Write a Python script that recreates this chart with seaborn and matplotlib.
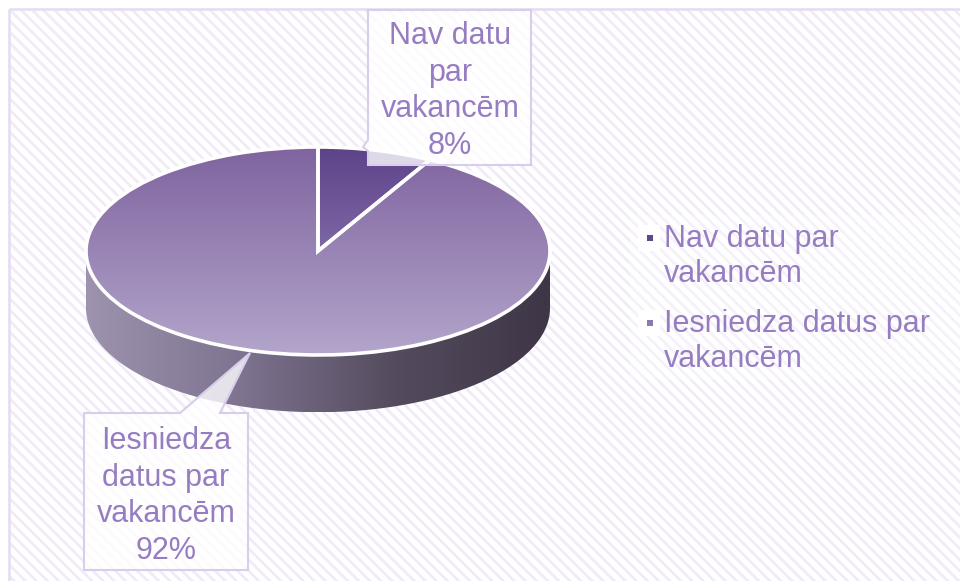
import numpy as np
import matplotlib.pyplot as plt
import seaborn as sns
from matplotlib.patches import Rectangle, Polygon
from matplotlib.colors import LinearSegmentedColormap

# Data
legend_labels = ["Nav datu par\nvakancēm", "Iesniedza datus par\nvakancēm"]
callout_labels = ["Nav datu\npar\nvakancēm", "Iesniedza\ndatus par\nvakancēm"]
shares = [8, 92]
marker_colors = ["#5f4689", "#8d7aad"]

sns.set_style("white")
plt.rcParams["font.family"] = ["Liberation Sans", "DejaVu Sans"]
plt.rcParams["hatch.linewidth"] = 2.0
text_color = "#967dc1"

W, H = 960, 581
fig = plt.figure(figsize=(9.6, 5.81), dpi=100)

# background frame with diagonal stripes (pixel coords)
bg = fig.add_axes([0, 0, 1, 1], zorder=0)
bg.set_xlim(0, W)
bg.set_ylim(H, 0)
bg.axis("off")
bg.add_patch(Rectangle((9, 9), W, H, facecolor="white", edgecolor="#f1ebf8",
                       hatch="\\\\\\", lw=0))
bg.add_patch(Rectangle((9, 9), W, H, facecolor="none", edgecolor="#e6dff1", lw=2))

# pie axes: unit circle squashed into an ellipse (232 px wide radius, 104 px tall)
cx, cy, rx, ry = 318, 251, 232, 104
depth = 0.55
ax = fig.add_axes([0, 0, 1, 1], zorder=1)
ax.patch.set_alpha(0)
wedges, _ = ax.pie(shares, startangle=90, counterclock=False, radius=1,
                   wedgeprops=dict(edgecolor="white", linewidth=2.6, facecolor="none"))

# side of the cake (front half only)
t = np.linspace(np.pi, 2 * np.pi, 300)
top = np.column_stack([np.cos(t), np.sin(t)])
bot = np.column_stack([np.cos(t[::-1]), np.sin(t[::-1]) - depth])
side = Polygon(np.vstack([top, bot]), closed=True, facecolor="none", edgecolor="none")
ax.add_patch(side)
side_cmap = LinearSegmentedColormap.from_list("side", ["#9d93ae", "#7e7390", "#544b5e", "#3e3646"])
im = ax.imshow(np.linspace(0, 1, 256)[None, :], cmap=side_cmap, extent=(-1, 1, -1 - depth, 0),
               aspect="auto", zorder=1)
im.set_clip_path(side)

# top face gradients, one per slice
face_colors = [("#5d4389", "#a08cc2"), ("#7f649f", "#b3a5cb")]
for w, (c_top, c_bot) in zip(wedges, face_colors):
    cmap = LinearSegmentedColormap.from_list("f", [c_top, c_bot])
    g = ax.imshow(np.linspace(0, 1, 256)[:, None], cmap=cmap, extent=(-1, 1, -1, 1),
                  aspect="auto", origin="upper", zorder=2)
    g.set_clip_path(w)
    w.set_zorder(3)

ax.set_aspect("auto")
ax.set_xlim(-cx / rx, (W - cx) / rx)
ax.set_ylim((cy - H) / ry, cy / ry)
ax.axis("off")

# callouts and legend (pixel coords)
ov = fig.add_axes([0, 0, 1, 1], zorder=2)
ov.set_xlim(0, W)
ov.set_ylim(H, 0)
ov.axis("off")
ov.patch.set_alpha(0)

boxes = [
    [(368, 10), (531, 10), (531, 165), (368, 165), (368, 151), (363, 147), (368, 140)],
    [(84, 413), (180, 413), (250, 353), (220, 413), (248, 413), (248, 570), (84, 570)],
]
centers = [(450, 91), (166, 496)]
for pts, (x, y), lab, s in zip(boxes, centers, callout_labels, shares):
    ov.add_patch(Polygon(pts, closed=True, facecolor=(1, 1, 1, 0.8),
                         edgecolor="#d8cdea", lw=1.5))
    ov.text(x, y, f"{lab}\n{s}%", ha="center", va="center", fontsize=22,
            color=text_color, linespacing=1.3)

# legend: small square marker next to first line of each entry
ov.add_patch(Rectangle((630, 215), 330, 165, facecolor=(1, 1, 1, 0.35), edgecolor="none"))
for i, (lab, c) in enumerate(zip(legend_labels, marker_colors)):
    y0 = 238 + 85 * i
    ov.add_patch(Rectangle((638, y0 - 13), 22, 26, facecolor="white", edgecolor="none"))
    ov.scatter([650], [y0], marker="s", s=16, color=c, linewidths=0, zorder=3)
    ov.text(664, y0 - 14, lab, ha="left", va="top", fontsize=22,
            color=text_color, linespacing=1.2)

fig.savefig("out.png", dpi=100)
